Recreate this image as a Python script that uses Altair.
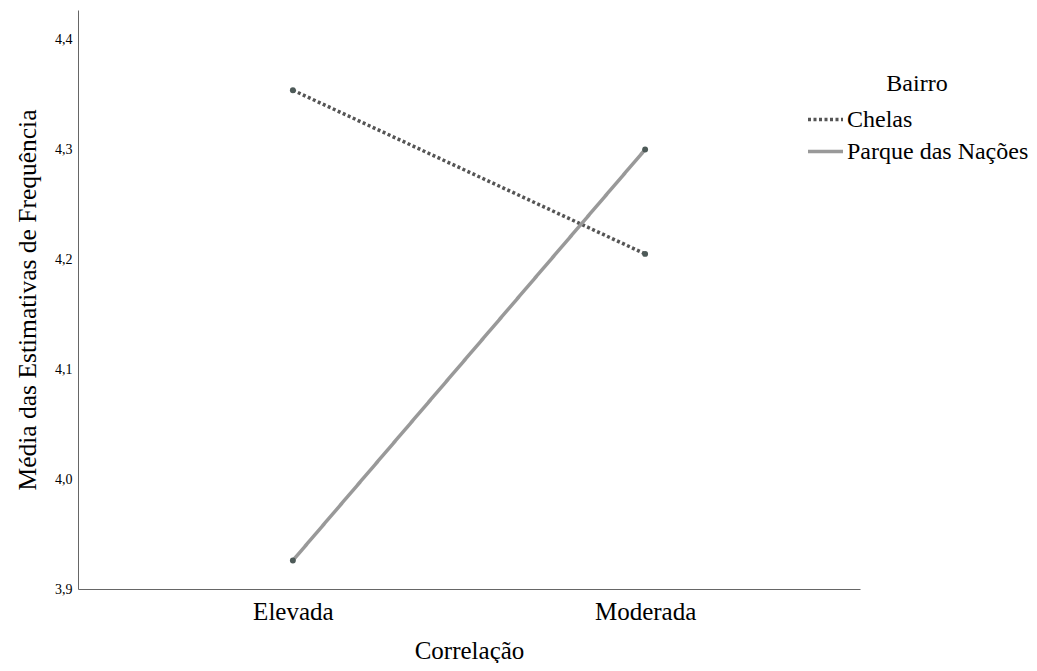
import altair as alt
import pandas as pd

correlacao = ["Elevada", "Moderada"]
chelas = [4.354, 4.205]
parque = [3.926, 4.300]
bairros = ["Chelas", "Parque das Nações"]

rows = []
for i, c in enumerate(correlacao):
    rows.append({"Correlação": c, "Bairro": bairros[0], "v": chelas[i]})
    rows.append({"Correlação": c, "Bairro": bairros[1], "v": parque[i]})
df = pd.DataFrame(rows)

FONT = "Liberation Serif"

x = alt.X("Correlação:N", sort=correlacao,
          scale=alt.Scale(type="point", padding=0.61),
          axis=alt.Axis(title="Correlação", labelAngle=0, ticks=False, grid=False,
                        labelFontSize=25, labelPadding=10, titleFontSize=25,
                        titlePadding=14, titleFontWeight="normal",
                        domainColor="#666", labelColor="#000", titleColor="#000"))
y = alt.Y("v:Q", scale=alt.Scale(domain=[3.9, 4.427], nice=False, zero=False),
          axis=alt.Axis(title="Média das Estimativas de Frequência", values=[3.9, 4.0, 4.1, 4.2, 4.3, 4.4],
                        labelExpr="replace(format(datum.value, '.1f'), '.', ',')",
                        ticks=False, grid=False, labelFontSize=14, labelPadding=6,
                        titleFontSize=25.5, titleFontWeight="normal", titlePadding=14,
                        domainColor="#666", labelColor="#000", titleColor="#000"))

lines = alt.Chart(df).mark_line(strokeWidth=3.5).encode(
    x=x, y=y,
    color=alt.Color("Bairro:N", scale=alt.Scale(domain=bairros, range=["#555555", "#999999"]),
                    legend=alt.Legend(orient="none", legendX=728, legendY=62,
                                      title="Bairro", titleFontSize=24, titleFontWeight="normal",
                                      titleAnchor="middle", titlePadding=4, titleLimit=300,
                                      labelFontSize=24, labelLimit=300, symbolType="stroke",
                                      symbolSize=1225, symbolStrokeWidth=3.5, labelOffset=2,
                                      rowPadding=0, labelColor="#000", titleColor="#000")),
    strokeDash=alt.StrokeDash("Bairro:N", scale=alt.Scale(domain=bairros, range=[[3, 2.5], [1, 0]]),
                              legend=None),
)
points = alt.Chart(df).mark_point(filled=True, size=35, color="#4d5a58", opacity=1).encode(x=x, y=y)

chart = alt.layer(lines, points).properties(
    width=782, height=579,
    autosize=alt.AutoSizeParams(type="none"),
    padding={"left": 70, "top": 2, "right": 169, "bottom": 74},
).configure(font=FONT).configure_view(strokeWidth=0, stroke="transparent")

chart.save("out.html", embed_options={"renderer": "svg", "actions": False})
